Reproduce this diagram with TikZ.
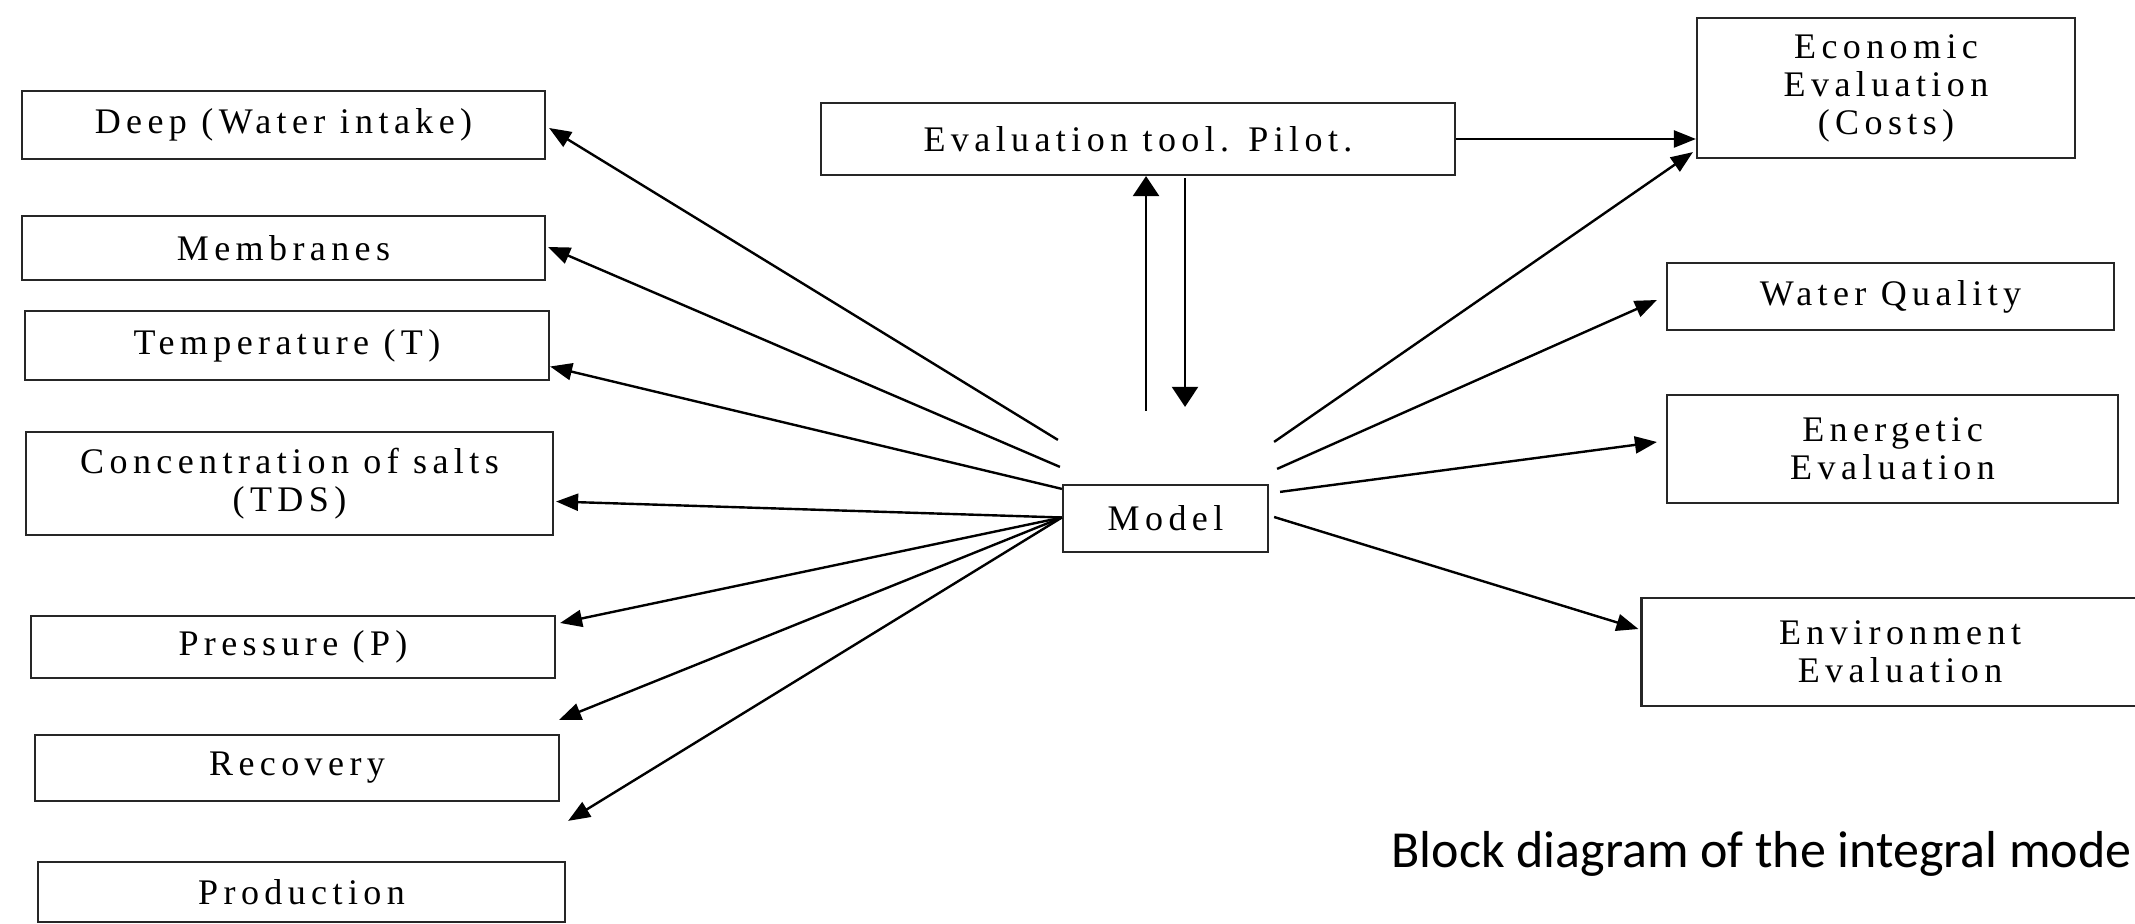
\documentclass[tikz,border=0pt]{standalone}
\usepackage{fontspec}
\usetikzlibrary{arrows.meta,calc}
\newfontfamily\boxfont[LetterSpace=15]{Liberation Serif}
\newfontfamily\capfont{Carlito}

\begin{document}
\begin{tikzpicture}[x=0.5pt,y=0.5pt,yscale=-1,xscale=1,
		blok/.style={draw=black!85,line width=1.1pt,inner sep=0pt,align=center,font=\boxfont\fontsize{18pt}{19pt}\selectfont},
		link/.style={line width=1.2pt,-{Triangle[length=11pt,width=8.5pt]}},
		linkwide/.style={line width=1.2pt,-{Triangle[length=10pt,width=13pt]}}]
		\useasboundingbox (0,0) rectangle (2135,924);

		%Shape: Rectangle [left column]
		\node[blok,minimum width=261.5pt,minimum height=34pt] (deep) at (283.5,125) {Deep (Water intake)};
		\node[blok,minimum width=261.5pt,minimum height=32pt] (membr) at (283.5,248) {Membranes};
		\node[blok,minimum width=262pt,minimum height=34.5pt] (temp) at (287,345.5) {Temperature (T)};
		\node[blok,minimum width=263.5pt,minimum height=51.5pt] (conc) at (289.5,483.5) {Concentration of salts\\(TDS)};
		\node[blok,minimum width=262pt,minimum height=31pt] (press) at (293,647) {Pressure (P)};
		\node[blok,minimum width=262pt,minimum height=33pt] (recov) at (297,768) {Recovery};
		\node[blok,minimum width=263.5pt,minimum height=30pt] (prod) at (301.5,892) {Production};

		%Shape: Rectangle [middle]
		\node[blok,minimum width=317pt,minimum height=36pt] (evaltool) at (1138,139) {Evaluation tool. Pilot.};
		\node[blok,minimum width=102.5pt,minimum height=33.5pt] (model) at (1165.5,518.5) {Model};

		%Shape: Rectangle [right column]
		\node[blok,minimum width=189pt,minimum height=70pt] (econ) at (1886,88) {Economic\\Evaluation\\(Costs)};
		\node[blok,minimum width=223.5pt,minimum height=33.5pt] (wq) at (1890.5,296.5) {Water Quality};
		\node[blok,minimum width=225.5pt,minimum height=54pt] (energ) at (1892.5,449) {Energetic\\Evaluation};
		\node[blok,minimum width=258.5pt,minimum height=54pt] (env) at (1900,652) {Environment\\Evaluation};

		% free ends of the two lower arrows
		\coordinate (free1) at ($(recov.north east)+(-1,-14)$);
		\coordinate (free2) at ($(prod.north east)+(2,-40)$);

		% Model -> left column
		\draw[link] ($(model.north west)+(-4,-44)$) -- ($(deep.east)+(3,3)$);
		\draw[link] ($(model.north west)+(-2,-17)$) -- ($(membr.east)+(2,-1)$);
		\draw[link] ($(model.north west)+(0,5)$) -- ($(temp.east)+(0,21)$);
		\draw[link] ($(model.west)+(0,-1)$) -- ($(conc.east)+(2,18)$);
		\draw[link] ($(model.west)+(0,-1)$) -- ($(press.east)+(4,-24)$);
		\draw[link] ($(model.west)+(0,-1)$) -- (free1);
		\draw[link] ($(model.west)+(0,-1)$) -- (free2);

		% Model <-> evaluation tool
		\draw[linkwide] ($(model.north)+(-19.5,-73)$) -- ($(evaltool.south)+(8,0)$);
		\draw[linkwide] ($(evaltool.south)+(47,2)$) -- ($(model.north)+(19.5,-77)$);
		\draw[link] (evaltool.east) -- (evaltool.east -| econ.west);

		% Model -> right column
		\draw[link] ($(model.north east)+(5,-42)$) -- ($(econ.south west)+(-3,-7)$);
		\draw[link] ($(model.north east)+(8,-15)$) -- ($(wq.west)+(-9,3.5)$);
		\draw[link] ($(model.north east)+(11,8)$) -- ($(energ.west)+(-9,-7)$);
		\draw[link] ($(model.east)+(5,-1.5)$) -- ($(env.west)+(-2,-23)$);

		% Text Node
		\node[anchor=base west,inner sep=0pt,font=\capfont\fontsize{26pt}{31pt}\selectfont] (caption) at (1391,867) {Block diagram of the integral mode};

\end{tikzpicture}
\end{document}
